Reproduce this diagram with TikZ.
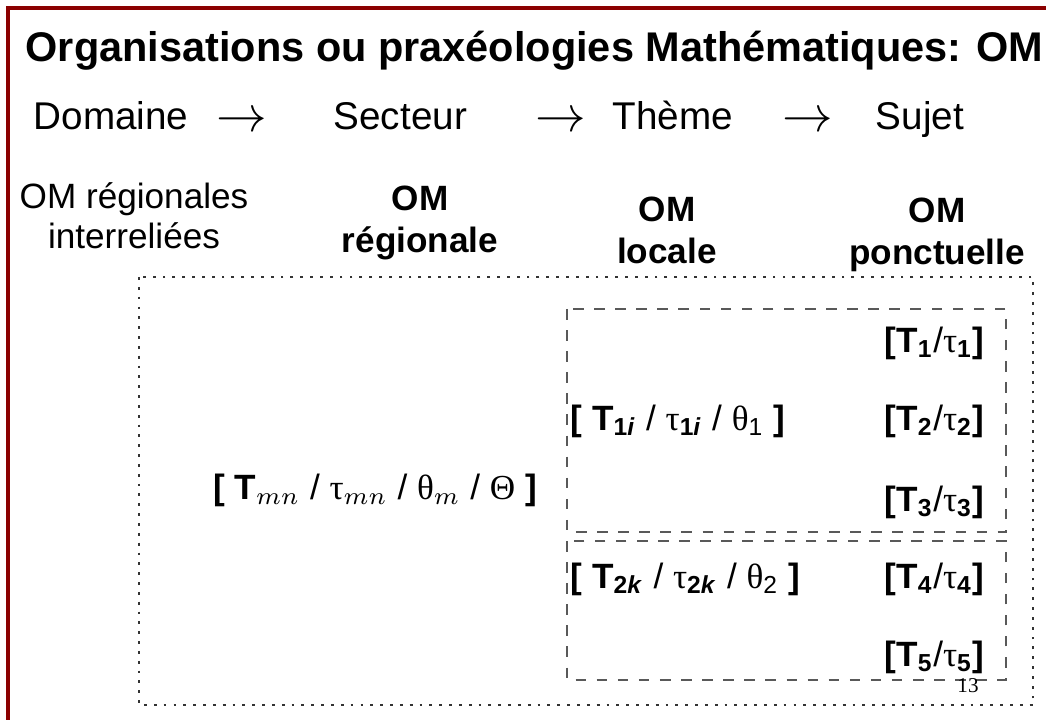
\documentclass[tikz,border=0pt]{standalone}
\usepackage{fontspec}
\setmainfont{Liberation Sans}
\newfontfamily\pagefont{Liberation Serif}
\usepackage{amsmath}
\usepackage{xcolor}
\definecolor{framered}{RGB}{139,0,0}

\newcommand{\omsub}[1]{$_{\text{#1}}$}
\newcommand{\omsep}{\textmd{/}}
\newcommand{\symtau}{{\pagefont\mdseries τ}}
\newcommand{\symtheta}{{\pagefont\mdseries θ}}
\newcommand{\symTheta}{{\pagefont\mdseries Θ}}

\begin{document}
\begin{tikzpicture}[
            every node/.style={
            inner sep=0pt, text centered, font=\fontsize{10}{12}\selectfont}
        ]
        \tikzstyle {title_text} = [font=\fontsize{11.8}{13}\selectfont\bfseries]
        \tikzstyle {scale_text} = [font=\fontsize{11}{13}\selectfont]
        \tikzstyle {arrow_text} = [font=\fontsize{14}{16}\selectfont]
        \tikzstyle {head_text} = [align=center, font=\fontsize{10}{11.5}\selectfont]
        \tikzstyle {head_bold} = [align=center, font=\fontsize{10}{12}\selectfont\bfseries]
        \tikzstyle {om_text} = [font=\fontsize{10}{12}\selectfont\bfseries]
        \tikzstyle {dot_box} = [draw=black!80, dotted, thick]
        \tikzstyle {dash_box} = [draw=black!65, dashed, semithick]

        \useasboundingbox (0,0) rectangle (10.46,-7.2);
        \draw [framered, line width=1pt] (0.08,-7.2) -- (0.08,-0.08) -- (10.46,-0.08);

        \node [title_text, anchor=base west] (title) at (0.25,-0.62) {Organisations ou praxéologies Mathématiques: OM};

        \node [scale_text, anchor=base west] (dom) at (0.33,-1.30) {Domaine};
        \node [arrow_text, anchor=base] (ar1) at (2.42,-1.32) {$\rightarrow$};
        \node [scale_text, anchor=base west] (sec) at (3.33,-1.30) {Secteur};
        \node [arrow_text, anchor=base] (ar2) at (5.61,-1.32) {$\rightarrow$};
        \node [scale_text, anchor=base west] (the) at (6.12,-1.30) {Thème};
        \node [arrow_text, anchor=base] (ar3) at (8.08,-1.32) {$\rightarrow$};
        \node [scale_text, anchor=base west] (suj) at (8.75,-1.30) {Sujet};

        \node [head_text] (inter) at (1.34,-2.16) {OM régionales\\interreliées};
        \node [head_bold] (reg) at (4.20,-2.23) {OM\\régionale};
        \node [head_bold] (loc) at (6.67,-2.30) {OM\\locale};
        \node [head_bold] (ponc) at (9.37,-2.35) {OM\\ponctuelle};

        \draw [dot_box] (1.39,-2.77) rectangle (10.33,-7.05);
        \draw [dash_box] (5.67,-3.09) rectangle (10.06,-5.32);
        \draw [dash_box] (5.67,-5.41) rectangle (10.06,-6.80);

        \node [om_text] (omreg) at (3.75,-4.90) {[ T$_{mn}$ \omsep{} \symtau$_{mn}$ \omsep{} \symtheta$_m$ \omsep{} \symTheta{} ]};
        \node [om_text, anchor=west] (omloc1) at (5.70,-4.21) {[ T\omsub{1\textit{i}} \omsep{} \symtau\omsub{1\textit{i}} \omsep{} \symtheta\omsub{\mdseries 1} ]};
        \node [om_text, anchor=west] (omloc2) at (5.70,-5.79) {[ T\omsub{2\textit{k}} \omsep{} \symtau\omsub{2\textit{k}} \omsep{} \symtheta\omsub{\mdseries 2} ]};

        \node [om_text, anchor=east] (p1) at (9.85,-3.43) {[T\omsub{1}\omsep\symtau\omsub{1}]};
        \node [om_text, anchor=east] (p2) at (9.85,-4.21) {[T\omsub{2}\omsep\symtau\omsub{2}]};
        \node [om_text, anchor=east] (p3) at (9.85,-5.02) {[T\omsub{3}\omsep\symtau\omsub{3}]};
        \node [om_text, anchor=east] (p4) at (9.85,-5.79) {[T\omsub{4}\omsep\symtau\omsub{4}]};
        \node [om_text, anchor=east] (p5) at (9.85,-6.57) {[T\omsub{5}\omsep\symtau\omsub{5}]};

        \node [font=\pagefont\fontsize{6}{7}\selectfont] (page) at (9.68,-6.86) {13};

\end{tikzpicture}
\end{document}
